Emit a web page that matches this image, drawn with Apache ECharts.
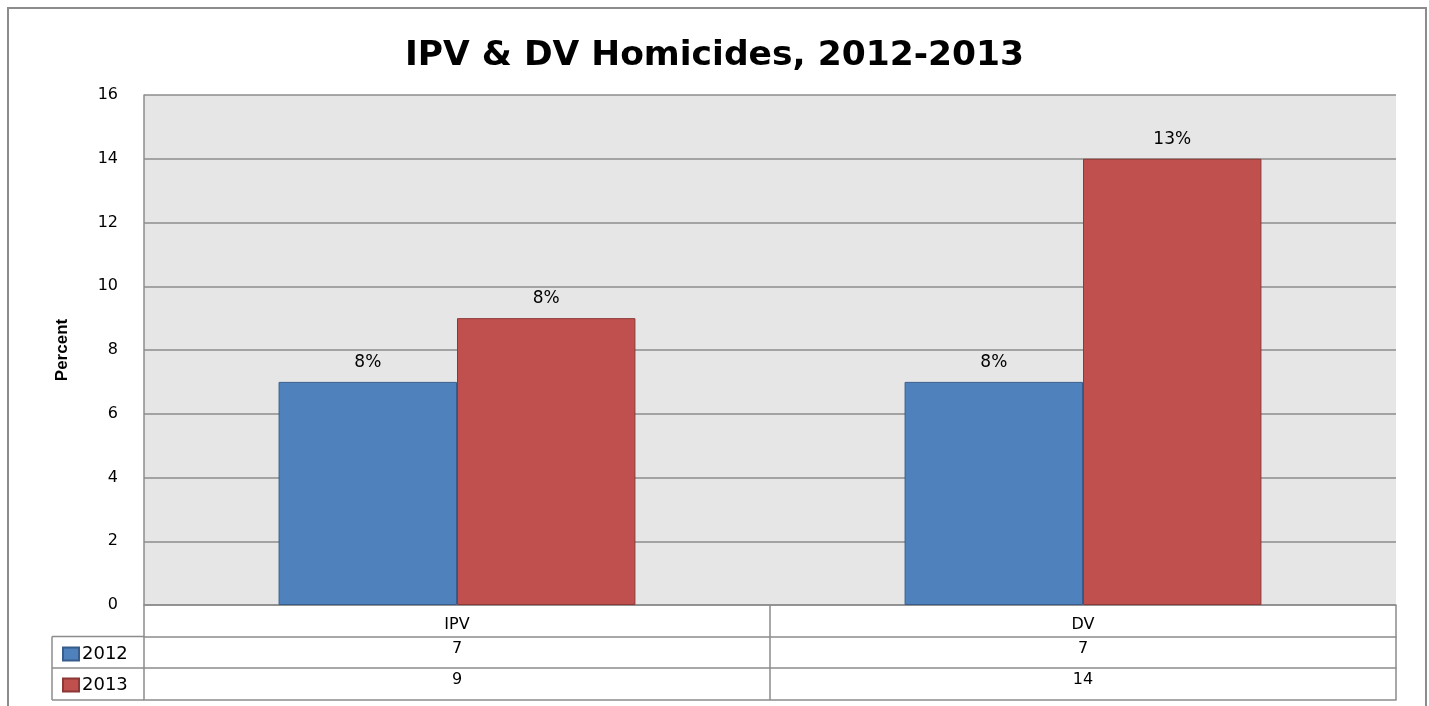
<!DOCTYPE html>
<html>
<head>
<meta charset="utf-8">
<script src="https://cdn.jsdelivr.net/npm/echarts@6/dist/echarts.min.js"></script>
<style>html,body{margin:0;padding:0;background:#fff;}#c{width:1429px;height:706px;}</style>
</head>
<body>
<div id="c"></div>
<script>
var titleText = 'IPV & DV Homicides, 2012-2013';
var categories = ['IPV', 'DV'];
var seriesNames = ['2012', '2013'];
var values2012 = [7, 7];
var values2013 = [9, 14];
var labels2012 = ['8%', '8%'];
var labels2013 = ['8%', '13%'];
var yTicks = [0, 2, 4, 6, 8, 10, 12, 14, 16];

var gridColor = '#8c8c8c';
var font = 'DejaVu Sans, Verdana, sans-serif';
var chart = echarts.init(document.getElementById('c'));

function tableAxis(data, offset, showLabel, margin) {
  return {
    type: 'category', data: data, position: 'bottom', offset: offset,
    axisLine: { show: true, lineStyle: { color: gridColor, width: 1.5 } },
    axisTick: { show: showLabel, length: 32, interval: 0, lineStyle: { color: gridColor, width: 1.5 } },
    axisLabel: { show: showLabel, margin: margin, color: '#000', fontSize: 16, fontFamily: font, interval: 0 },
    splitLine: { show: false }
  };
}

function legendRow(name, top) {
  return {
    orient: 'vertical', left: 62, top: top, padding: 0, itemWidth: 16, itemHeight: 13, itemGap: 0,
    icon: 'rect',
    textStyle: { fontFamily: font, fontSize: 18, color: '#000', padding: [0, 0, 0, -2] },
    data: [name]
  };
}

var option = {
  backgroundColor: '#fff',
  animation: false,
  title: {
    text: titleText, left: 'center', top: 34,
    textStyle: { fontFamily: font, fontWeight: 'bold', fontSize: 34.5, color: '#000' }
  },
  legend: [legendRow(seriesNames[0], 645), legendRow(seriesNames[1], 676)],
  grid: { left: 144, right: 33, top: 95, bottom: 101, show: true, backgroundColor: '#e6e6e6', borderWidth: 0 },
  xAxis: [
    tableAxis(categories, 0, true, 12),
    tableAxis(values2012.map(String), 31.5, true, 4),
    tableAxis(values2013.map(String), 63, true, 4),
    tableAxis(categories, 95, false, 4)
  ],
  yAxis: {
    type: 'value', min: 0, max: 16, interval: 2,
    name: 'Percent', nameLocation: 'middle', nameGap: 73,
    nameTextStyle: { fontFamily: 'Liberation Sans Narrow, Liberation Sans, sans-serif', fontWeight: 'bold', fontSize: 17, color: '#000' },
    axisLine: { show: true, lineStyle: { color: gridColor, width: 1.5 } },
    axisTick: { show: false },
    axisLabel: { color: '#000', fontSize: 16, fontFamily: font, margin: 26,
      formatter: function (v) { return yTicks.indexOf(v) >= 0 ? String(v) : ''; } },
    splitLine: { show: true, lineStyle: { color: gridColor, width: 1.5 } }
  },
  series: [
    {
      name: seriesNames[0], type: 'bar', data: values2012, barGap: '0%', barCategoryGap: '43%',
      itemStyle: { color: '#4f81bd', borderColor: '#385d8a', borderWidth: 1 },
      label: { show: true, position: 'top', distance: 11, color: '#000', fontSize: 17, fontFamily: font,
        formatter: function (p) { return labels2012[p.dataIndex]; } }
    },
    {
      name: seriesNames[1], type: 'bar', data: values2013, barGap: '0%', barCategoryGap: '43%',
      itemStyle: { color: '#c0504d', borderColor: '#8c3836', borderWidth: 1 },
      label: { show: true, position: 'top', distance: 11, color: '#000', fontSize: 17, fontFamily: font,
        formatter: function (p) { return labels2013[p.dataIndex]; } }
    }
  ],
  graphic: [
    { type: 'rect', shape: { x: 8, y: 8, width: 1418, height: 760 }, style: { fill: 'none', stroke: '#8c8c8c', lineWidth: 2 }, silent: true, z: 100 },
    { type: 'line', shape: { x1: 52, y1: 636.5, x2: 144, y2: 636.5 }, style: { stroke: gridColor, lineWidth: 1.5 }, z: 100 },
    { type: 'line', shape: { x1: 52, y1: 668, x2: 144, y2: 668 }, style: { stroke: gridColor, lineWidth: 1.5 }, z: 100 },
    { type: 'line', shape: { x1: 52, y1: 700, x2: 144, y2: 700 }, style: { stroke: gridColor, lineWidth: 1.5 }, z: 100 },
    { type: 'line', shape: { x1: 52, y1: 636.5, x2: 52, y2: 700 }, style: { stroke: gridColor, lineWidth: 1.5 }, z: 100 }
  ]
};
chart.setOption(option);
</script>
</body>
</html>
